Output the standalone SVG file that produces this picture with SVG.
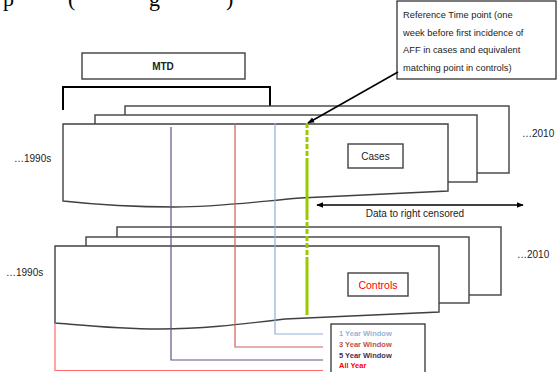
<svg xmlns="http://www.w3.org/2000/svg" width="557" height="372" viewBox="0 0 557 372">
<defs>
<style>
.box{fill:#fff;stroke:#404040;stroke-width:1.4}
.lbl{font-family:"Liberation Sans",Arial,sans-serif;font-size:10px;fill:#222}
.call{font-family:"Liberation Sans",Arial,sans-serif;font-size:9.3px;fill:#222}
.leg{font-family:"Liberation Sans",Arial,sans-serif;font-size:7.5px;font-weight:bold}
.win{fill:none;stroke-width:1.2}
</style>
<marker id="ah" viewBox="0 0 10 10" refX="9" refY="5" markerWidth="7" markerHeight="7" orient="auto-start-reverse" markerUnits="userSpaceOnUse">
<path d="M0,1 L10,5 L0,9 Z" fill="#000"/>
</marker>
</defs>
<rect width="557" height="372" fill="#fff"/>
<text font-family="Liberation Serif,serif" font-size="22" fill="#000" y="6"><tspan x="3">p</tspan><tspan x="68">(</tspan><tspan x="149">g</tspan><tspan x="226">)</tspan></text>

<g id="mtd">
<rect class="box" x="82" y="53" width="163" height="26"/>
<text class="lbl" x="163" y="69.5" text-anchor="middle" font-weight="bold">MTD</text>
</g>
<g id="bracket">
<path d="M63,110 V87 H270 V106" fill="none" stroke="#000" stroke-width="2"/>
</g>

<g id="cases-stack">
<rect class="box" x="125" y="106" width="384" height="67"/>
<rect class="box" x="95" y="115" width="382" height="67"/>
<path class="box" d="M63,124 H448 V191 L300,198 C245,203 215,207 175,207 C125,207 90,204 63,201 Z"/>
</g>
<g id="cases">
<rect class="box" x="348" y="144" width="55" height="24"/>
<text class="lbl" x="375.5" y="159.5" text-anchor="middle">Cases</text>
</g>

<g id="controls-stack">
<rect class="box" x="117" y="227" width="384" height="68"/>
<rect class="box" x="86" y="237" width="383" height="66"/>
<path class="box" d="M55,246 H439 V312 L285,319 C235,325 200,329 160,329 C115,329 80,325 55,323 Z"/>
</g>
<g id="controls">
<rect class="box" x="348" y="273" width="60" height="23"/>
<text x="378" y="288.5" text-anchor="middle" font-family="Liberation Sans,Arial,sans-serif" font-size="10.5" fill="#ff0000">Controls</text>
</g>

<g id="labels">
<text class="lbl" x="14" y="162">…1990s</text>
<text class="lbl" x="6" y="276">…1990s</text>
<text class="lbl" x="522" y="137">…2010</text>
<text class="lbl" x="517" y="258">…2010</text>
<text class="lbl" x="415" y="216.5" text-anchor="middle">Data to right censored</text>
</g>

<g id="callout">
<rect x="397" y="1" width="159" height="78" fill="#fff" stroke="#222" stroke-width="1.2"/>
<text class="call" x="403" y="18">Reference Time point (one</text>
<text class="call" x="403" y="36">week before first incidence of</text>
<text class="call" x="403" y="53">AFF in cases and equivalent</text>
<text class="call" x="403" y="71">matching point in controls)</text>
</g>

<g id="legend">
<rect x="331" y="324" width="94" height="52" fill="#fff" stroke="#222" stroke-width="1.2"/>
<text class="leg" x="339" y="336" fill="#95b3d7">1 Year Window</text>
<text class="leg" x="339" y="347" fill="#c0504d">3 Year Window</text>
<text class="leg" x="339" y="358" fill="#403152">5 Year Window</text>
<text class="leg" x="339" y="368" fill="#ff0000">All Year</text>
</g>

<g id="connectors">
<path class="win" stroke="#6a4f8c" d="M171,127 V360 H323"/>
<path class="win" stroke="#c9605e" d="M235,123 V347 H323"/>
<path class="win" stroke="#8fb0dc" d="M275,123 V334 H323"/>
<path class="win" stroke="#ff6b6b" d="M55,323 V370.5 H323"/>
<path d="M307,123 V162 M307,215 V258" stroke="#99cc00" stroke-width="3" stroke-dasharray="5,2" fill="none"/>
<path d="M307,162 V215 M307,258 V315" stroke="#99cc00" stroke-width="3" fill="none"/>
<path d="M398,72 L308,123" stroke="#000" stroke-width="1.5" marker-end="url(#ah)" fill="none"/>
<path d="M317,205 H523" stroke="#000" stroke-width="1.5" marker-start="url(#ah)" marker-end="url(#ah)" fill="none"/>
</g>
</svg>
